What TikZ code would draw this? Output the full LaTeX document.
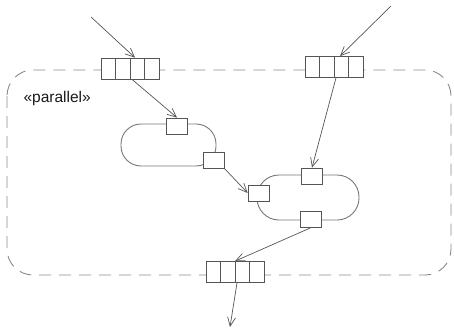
\documentclass[tikz,border=0pt]{standalone}
\usepackage{fontspec}
\setmainfont{Liberation Sans}
\usetikzlibrary{arrows.meta, positioning, calc}
\definecolor{linegrey}{HTML}{555555}
\definecolor{edgegrey}{HTML}{777777}
\definecolor{dashgrey}{HTML}{8A8A8A}

\begin{document}
\begin{tikzpicture}[
    x=1pt, y=-1pt,
    font=\fontsize{15.5}{17}\selectfont,
    region/.style={
        draw=dashgrey, line width=0.9pt,
        dash pattern=on 12pt off 8pt,
        rounded corners=26pt
    },
    action/.style={
        rectangle, draw=edgegrey, line width=0.9pt,
        fill=white, inner sep=0pt
    },
    pin/.style={
        rectangle, draw=linegrey, line width=0.7pt,
        fill=white, inner sep=0pt,
        minimum width=21pt, minimum height=16pt
    },
    expansion/.style={
        rectangle, draw=linegrey, line width=0.7pt,
        fill=white, inner sep=0pt,
        minimum width=58pt, minimum height=21pt,
        path picture={
            \foreach \k in {1,2,3}
                \draw[linegrey, line width=0.7pt]
                ($(path picture bounding box.north west)!\k/4!(path picture bounding box.north east)$)
                -- ($(path picture bounding box.south west)!\k/4!(path picture bounding box.south east)$);
        }
    },
    arr/.style={
        -{Straight Barb[length=9pt, width=8pt]},
        draw=linegrey, line width=0.7pt
    }
]

\useasboundingbox (0,0) rectangle (454,332);

% ==========================================
% EXPANSION REGION
% ==========================================

\draw[region] (7,70) rectangle (451,275);
\node[anchor=west, text=black!90] (stereo) at (20,98) {«parallel»};

% ==========================================
% ACTIONS
% ==========================================

\node[action, minimum width=95pt, minimum height=42pt, rounded corners=20pt] (act1) at (168.5,145) {};
\node[action, minimum width=102pt, minimum height=45pt, rounded corners=22pt] (act2) at (308,197.5) {};

\node[pin] (in1) at (177,126) {};
\node[pin] (out1) at (213.5,160) {};
\node[pin] (in2) at (258.5,193) {};
\node[pin] (top2) at (312,176) {};
\node[pin] (bot2) at (310.5,219.5) {};

% ==========================================
% EXPANSION NODES
% ==========================================

\node[expansion] (expA) at (130,68.5) {};
\node[expansion] (expB) at (334,67) {};
\node[expansion] (expC) at (235,272) {};

\coordinate (srcA) at (91,17);
\coordinate (srcB) at (391,6);
\coordinate (sink) at (230,327);

% ==========================================
% FLOWS
% ==========================================

\draw[arr] (srcA) -- ([xshift=5pt]expA.north);
\draw[arr] ([xshift=2pt]expA.south) -- (in1.north);
\draw[arr] (srcB) -- ([xshift=6pt]expB.north);
\draw[arr] ([xshift=2pt]expB.south) -- (top2.north);
\draw[arr] (out1.south east) -- (in2.west);
\draw[arr] (bot2.south) -- (expC.north);
\draw[arr] ([xshift=2pt]expC.south) -- (sink);

\end{tikzpicture}
\end{document}
